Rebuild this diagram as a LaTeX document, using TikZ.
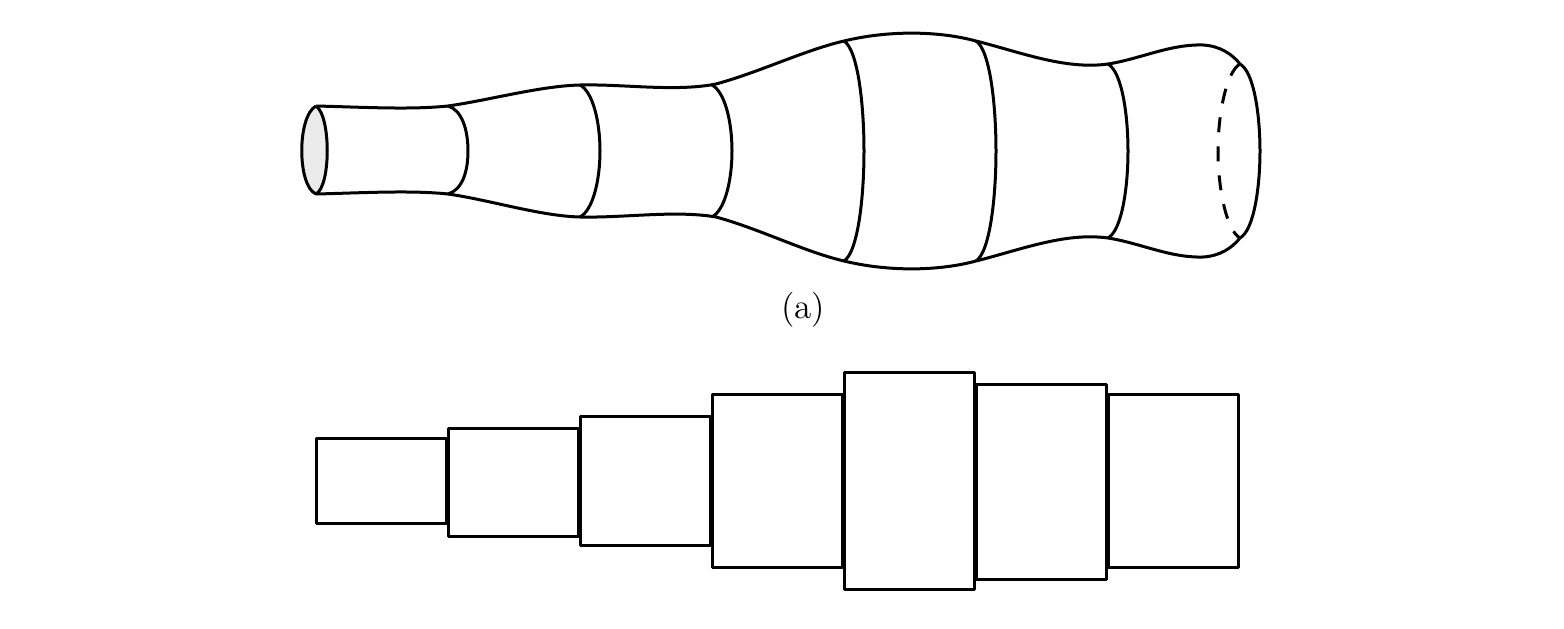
\documentclass[tikz,border=0pt]{standalone}
\tikzset{
  px/.style={x=0.33333pt,y=-0.33333pt},
  outline/.style={line width=1pt,black,line join=round},
  backdash/.style={outline,dash pattern=on 5pt off 4.7pt},
  box/.style={outline}
}
\begin{document}
\begin{tikzpicture}[px]
\useasboundingbox (0,0) rectangle (1564,629);
% left end cap
\path[fill=black!8] (316,106) .. controls (297,116) and (297,186) .. (316,194)
  .. controls (331,186) and (331,116) .. (316,106) -- cycle;
\draw[outline] (316,106) .. controls (297,116) and (297,186) .. (316,194)
  .. controls (331,186) and (331,116) .. (316,106);
% top profile
\draw[outline] (316,106) .. controls (360,107) and (410,110) .. (448,106)
  .. controls (490,100) and (540,86) .. (580,85)
  .. controls (625,84) and (675,92) .. (716,84)
  .. controls (760,72) and (805,50) .. (844,41)
  .. controls (885,31) and (935,30) .. (976,41)
  .. controls (1020,52) and (1065,70) .. (1108,64)
  .. controls (1140,59) and (1170,44) .. (1203,45)
  .. controls (1220,46) and (1232,54) .. (1240,64);
% bottom profile
\draw[outline] (316,194) .. controls (360,193) and (410,190) .. (448,194)
  .. controls (490,200) and (540,216) .. (580,217)
  .. controls (625,218) and (675,210) .. (716,217)
  .. controls (760,229) and (805,252) .. (844,261)
  .. controls (885,271) and (935,272) .. (976,261)
  .. controls (1020,250) and (1065,232) .. (1108,238)
  .. controls (1140,243) and (1170,258) .. (1203,257)
  .. controls (1220,256) and (1232,248) .. (1240,238);
% rims
\draw[outline] (448,106) .. controls (462,110) and (468,130) .. (468,151) .. controls (468,172) and (462,190) .. (448,194);
\draw[outline] (580,85) .. controls (593,92) and (600,122) .. (600,151) .. controls (600,180) and (593,210) .. (580,217);
\draw[outline] (712,85) .. controls (725,92) and (732,122) .. (732,151) .. controls (732,180) and (725,210) .. (712,217);
\draw[outline] (844,41) .. controls (858,50) and (864,105) .. (864,151) .. controls (864,197) and (858,252) .. (844,261);
\draw[outline] (976,41) .. controls (990,50) and (996,105) .. (996,151) .. controls (996,197) and (990,252) .. (976,261);
\draw[outline] (1108,64) .. controls (1122,72) and (1128,115) .. (1128,151) .. controls (1128,187) and (1122,230) .. (1108,238);
\draw[outline] (1240,64) .. controls (1254,72) and (1260,115) .. (1260,151) .. controls (1260,187) and (1254,230) .. (1240,238);
\draw[backdash] (1240,64) .. controls (1226,72) and (1218,115) .. (1218,151) .. controls (1218,187) and (1226,230) .. (1240,238);
% label
\node[inner sep=0pt,font=\fontsize{11.7}{14}\selectfont] (lab) at (803,310) {(a)};
% rectangles
\draw[box] (316,438) rectangle (446,523);
\draw[box] (448,428) rectangle (578,536);
\draw[box] (580,416) rectangle (710,545);
\draw[box] (712,394) rectangle (842,567);
\draw[box] (844,372) rectangle (974,589);
\draw[box] (976,384) rectangle (1106,579);
\draw[box] (1108,394) rectangle (1238,567);
\end{tikzpicture}
\end{document}
